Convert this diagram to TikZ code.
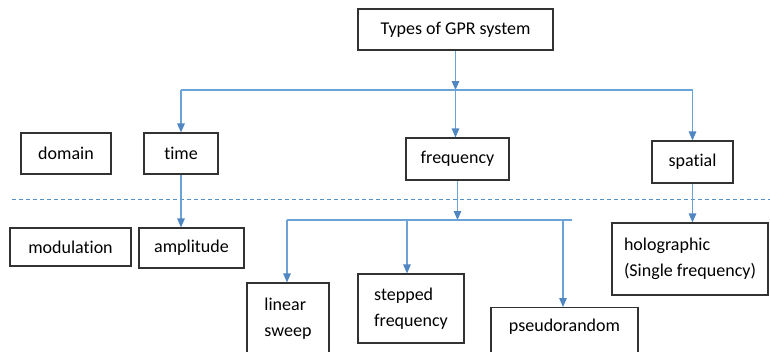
\documentclass[tikz,border=0pt]{standalone}
\usepackage{fontspec}
\setmainfont{Carlito}[Ligatures=NoCommon]
\usetikzlibrary{arrows.meta}
\definecolor{lineblue}{RGB}{108,163,214}
\definecolor{tipblue}{RGB}{80,135,195}
\definecolor{dashblue}{RGB}{85,145,205}
\definecolor{boxgray}{RGB}{50,50,50}
\tikzset{
  box/.style={draw=boxgray, line width=1.1bp, fill=white, inner sep=0pt,
    font=\fontsize{18bp}{26bp}\selectfont, align=center},
  lbox/.style={box, align=left},
  conn/.style={draw=lineblue, line width=1.2bp},
  arr/.style={conn, -{Triangle[width=7.5bp,length=9bp,color=tipblue]}},
  sep/.style={draw=dashblue, line width=1bp, dash pattern=on 4bp off 3bp}
}
\begin{document}
\begin{tikzpicture}[x=1bp,y=-1bp]
\useasboundingbox (0,0) rectangle (770,351);
% nodes
\node[box, minimum width=195bp, minimum height=41bp] (top) at (455.5,29.5) {Types of GPR system};
\node[box, minimum width=90bp, minimum height=41bp] (domain) at (66,153.5) {domain};
\node[box, minimum width=74bp, minimum height=41bp] (time) at (181,153.5) {time};
\node[box, minimum width=103bp, minimum height=42bp] (freq) at (457.5,159) {frequency};
\node[box, minimum width=81bp, minimum height=42bp] (spatial) at (692.5,162) {spatial};
\node[box, minimum width=121bp, minimum height=38bp] (modulation) at (70.5,247) {modulation};
\node[box, minimum width=105bp, minimum height=40bp] (amplitude) at (191.5,248) {amplitude};
\node[lbox, minimum width=82bp, minimum height=72bp] (linear) at (288,319) {linear\\sweep};
\node[lbox, minimum width=106bp, minimum height=69bp] (stepped) at (411,308.5) {stepped\\frequency};
\node[box, anchor=north, minimum width=147bp, text height=24bp, text depth=26bp] (pseudo) at (564.5,307) {pseudorandom};
\node[lbox, minimum width=156bp, minimum height=72bp] (holo) at (690,259) {holographic\\(Single frequency)};
% junction coordinates
\coordinate (j1) at (455.5,90);
\coordinate (hl) at (181,90);
\coordinate (hr) at (692.5,90);
\coordinate (f1) at (457.5,220);
\coordinate (fl) at (287,220);
\coordinate (fm) at (407,220);
\coordinate (fr) at (563,220);
\coordinate (fe) at (572,220);
\coordinate (d1) at (12,199);
\coordinate (d2) at (770,199);
% dashed separator
\draw[sep] (d1) -- (d2);
% top level
\draw[arr] (top.south) -- (j1);
\draw[conn] (hl) -- (hr);
\draw[arr] (hl) -- (time.north);
\draw[arr] (j1) -- (j1 |- freq.north);
\draw[arr] (hr) -- (spatial.north);
% second level
\draw[arr] (time.south) -- (time.south |- amplitude.north);
\draw[arr] (freq.south) -- (f1);
\draw[conn] (fl) -- (fe);
\draw[arr] (fl) -- (fl |- linear.north);
\draw[arr] (fm) -- (fm |- stepped.north);
\draw[arr] (fr) -- (fr |- pseudo.north);
\draw[arr] (spatial.south) -- (spatial.south |- holo.north);
\end{tikzpicture}
\end{document}
